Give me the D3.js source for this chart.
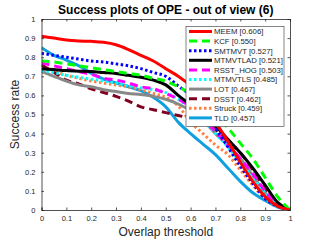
<!DOCTYPE html>
<html>
<head>
<meta charset="utf-8">
<script src="https://cdn.jsdelivr.net/npm/d3@7"></script>
<style>
  body { margin: 0; background: #fff; }
  svg { display: block; font-family: "Liberation Sans", Arial, sans-serif; }
</style>
</head>
<body>
<div id="chart"></div>
<script>
// 閾值 (x 軸)
var thresholds = d3.range(0, 21).map(i => i / 20);

// 各追蹤器的成功率
var trackers = ["MEEM", "KCF", "SMTMVT", "MTMVTLAD", "RSST_HOG", "MTMVTLS", "LOT", "DSST", "Struck", "TLD"];
var scores = ["0.606", "0.550", "0.527", "0.521", "0.503", "0.485", "0.467", "0.462", "0.459", "0.457"];

var meem     = [0.91, 0.90, 0.89, 0.885, 0.883, 0.878, 0.865, 0.84, 0.81, 0.78, 0.74, 0.70, 0.65, 0.56, 0.46, 0.36, 0.25, 0.15, 0.07, 0.02, 0];
var kcf      = [0.78, 0.775, 0.765, 0.755, 0.745, 0.735, 0.725, 0.715, 0.705, 0.69, 0.675, 0.645, 0.61, 0.56, 0.50, 0.43, 0.35, 0.27, 0.17, 0.07, 0];
var smtmvt   = [0.82, 0.81, 0.80, 0.79, 0.78, 0.775, 0.765, 0.755, 0.74, 0.72, 0.70, 0.65, 0.60, 0.53, 0.43, 0.33, 0.23, 0.14, 0.06, 0.02, 0];
var mtmvtlad = [0.74, 0.735, 0.73, 0.727, 0.725, 0.72, 0.715, 0.705, 0.695, 0.68, 0.655, 0.60, 0.55, 0.50, 0.44, 0.37, 0.30, 0.22, 0.13, 0.04, 0];
var rsstHog  = [0.77, 0.755, 0.74, 0.725, 0.71, 0.69, 0.68, 0.665, 0.645, 0.635, 0.61, 0.58, 0.54, 0.48, 0.41, 0.34, 0.27, 0.19, 0.10, 0.03, 0];
var mtmvtls  = [0.73, 0.72, 0.705, 0.695, 0.685, 0.675, 0.665, 0.65, 0.64, 0.63, 0.615, 0.58, 0.53, 0.47, 0.40, 0.33, 0.25, 0.17, 0.09, 0.03, 0];
var lot      = [0.725, 0.70, 0.675, 0.655, 0.645, 0.63, 0.62, 0.61, 0.605, 0.595, 0.58, 0.555, 0.52, 0.47, 0.40, 0.34, 0.27, 0.18, 0.09, 0.03, 0];
var dsst     = [0.76, 0.72, 0.68, 0.66, 0.635, 0.615, 0.595, 0.57, 0.54, 0.525, 0.51, 0.495, 0.48, 0.46, 0.42, 0.36, 0.30, 0.21, 0.11, 0.03, 0];
var struck   = [0.755, 0.73, 0.705, 0.69, 0.675, 0.665, 0.655, 0.645, 0.63, 0.61, 0.59, 0.545, 0.46, 0.40, 0.34, 0.29, 0.21, 0.13, 0.06, 0.02, 0];
var tld      = [0.85, 0.81, 0.785, 0.755, 0.715, 0.685, 0.665, 0.645, 0.625, 0.59, 0.54, 0.46, 0.40, 0.345, 0.29, 0.22, 0.15, 0.09, 0.05, 0.015, 0];

var seriesValues = [meem, kcf, smtmvt, mtmvtlad, rsstHog, mtmvtls, lot, dsst, struck, tld];

var xTicks = d3.range(0, 11).map(i => i / 10);
var yTicks = d3.range(0, 11).map(i => i / 10);

// 線條樣式
var colors = ["#ff0000", "#00ff00", "#0000ff", "#000000", "#ff00ff", "#00ffff", "#888888", "#800020", "#ff8040", "#10a0e0"];
var dashes = [null, "8,5", "2.5,2.5", null, "8,5", "2.5,2.5", null, "8,5", "2.5,2.5", null];
var widths = [3, 3, 3, 3, 3, 3, 3, 3, 3, 3];

var width = 320, height = 240;
var margin = { left: 41.5, right: 30, top: 19, bottom: 30 };

var svg = d3.select("#chart").append("svg")
  .attr("width", width)
  .attr("height", height);

var x = d3.scaleLinear().domain([0, 1]).range([margin.left, width - margin.right]);
var y = d3.scaleLinear().domain([0, 1]).range([height - margin.bottom, margin.top]);

// 繪製曲線 (由下往上，MEEM 最上層)
var line = d3.line()
  .x((d, i) => x(thresholds[i]))
  .y(d => y(d))
  .curve(d3.curveMonotoneX);

svg.append("defs").append("clipPath").attr("id", "clip")
  .append("rect")
  .attr("x", x(0)).attr("y", y(1))
  .attr("width", x(1) - x(0)).attr("height", y(0) - y(1));

var lines = svg.append("g").attr("clip-path", "url(#clip)");
for (var k = seriesValues.length - 1; k >= 0; k--) {
  lines.append("path")
    .datum(seriesValues[k])
    .attr("d", line)
    .attr("fill", "none")
    .attr("stroke", colors[k])
    .attr("stroke-width", widths[k])
    .attr("stroke-dasharray", dashes[k]);
}

// 坐標軸 (MATLAB 風格，刻度朝內)
var axisColor = "#262626";
var xAxis = svg.append("g")
  .attr("transform", "translate(0," + y(0) + ")")
  .call(d3.axisBottom(x).tickValues(xTicks).tickSize(-2.5).tickPadding(6).tickFormat(d3.format("")));
var xAxisTop = svg.append("g")
  .attr("transform", "translate(0," + y(1) + ")")
  .call(d3.axisTop(x).tickValues(xTicks).tickSize(-2.5).tickFormat(""));
var yAxis = svg.append("g")
  .attr("transform", "translate(" + x(0) + ",0)")
  .call(d3.axisLeft(y).tickValues(yTicks).tickSize(-2.5).tickPadding(6).tickFormat(d3.format("")));
var yAxisRight = svg.append("g")
  .attr("transform", "translate(" + x(1) + ",0)")
  .call(d3.axisRight(y).tickValues(yTicks).tickSize(-2.5).tickFormat(""));

[xAxis, xAxisTop, yAxis, yAxisRight].forEach(function (g) {
  g.select(".domain").attr("stroke", axisColor).attr("stroke-width", 0.8);
  g.selectAll(".tick line").attr("stroke", axisColor).attr("stroke-width", 0.8);
  g.selectAll(".tick text").attr("fill", axisColor).style("font-size", "7.5px");
});

// 標題和軸標籤
svg.append("text")
  .attr("x", (x(0) + x(1)) / 2)
  .attr("y", 14)
  .attr("text-anchor", "middle")
  .style("font-size", "12px")
  .style("font-weight", "bold")
  .text("Success plots of OPE - out of view (6)");

svg.append("text")
  .attr("x", (x(0) + x(1)) / 2)
  .attr("y", 236)
  .attr("text-anchor", "middle")
  .style("font-size", "12px")
  .attr("fill", axisColor)
  .text("Overlap threshold");

svg.append("text")
  .attr("transform", "translate(19," + (y(0) + y(1)) / 2 + ") rotate(-90)")
  .attr("text-anchor", "middle")
  .style("font-size", "12px")
  .attr("fill", axisColor)
  .text("Success rate");

// 圖例
var legend = svg.append("g").attr("transform", "translate(186,26.5)");
legend.append("rect")
  .attr("width", 98).attr("height", 100)
  .attr("fill", "#fff")
  .attr("stroke", "#333")
  .attr("stroke-width", 0.6);

trackers.forEach(function (name, i) {
  var yy = 5 + i * 9.6;
  legend.append("line")
    .attr("x1", 3).attr("x2", 26)
    .attr("y1", yy).attr("y2", yy)
    .attr("stroke", colors[i])
    .attr("stroke-width", widths[i])
    .attr("stroke-dasharray", dashes[i]);
  legend.append("text")
    .attr("x", 28).attr("y", yy + 2.8)
    .style("font-size", "7.8px")
    .attr("fill", axisColor)
    .text(name + " [" + scores[i] + "]");
});
</script>
</body>
</html>
